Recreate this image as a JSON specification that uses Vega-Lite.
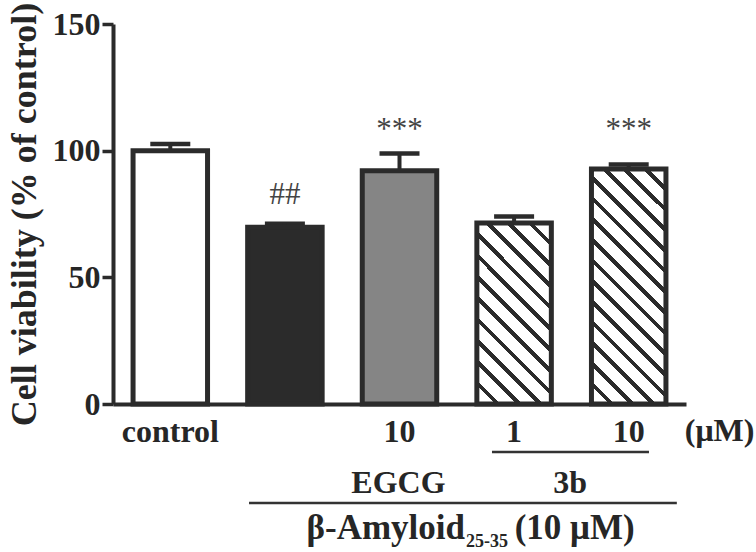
{
  "$schema": "https://vega.github.io/schema/vega-lite/v6.json",
  "width": 573,
  "height": 380,
  "autosize": {"type": "none"},
  "padding": {"left": 113, "top": 24, "right": 70, "bottom": 148},
  "background": "white",
  "config": {
    "view": {"stroke": null},
    "font": "Liberation Serif",
    "axis": {"labelFont": "Liberation Serif", "titleFont": "Liberation Serif"}
  },
  "datasets": {
    "bars": [
      {"group": "control", "mean": 100, "sd": 2.6},
      {"group": "Aβ", "mean": 69.8, "sd": 1.4},
      {"group": "EGCG 10", "mean": 92.1, "sd": 6.8},
      {"group": "3b 1", "mean": 71.4, "sd": 2.6},
      {"group": "3b 10", "mean": 92.8, "sd": 1.7}
    ],
    "sig": [
      {"group": "Aβ", "text": "##", "mean": 79},
      {"group": "EGCG 10", "text": "***", "mean": 104.5},
      {"group": "3b 10", "text": "***", "mean": 104.5}
    ],
    "lines": [
      {"from": 3.307, "to": 4.677, "level": -18.95},
      {"from": 1.187, "to": 4.92, "level": -39.1}
    ],
    "centerLabels": [
      {"label": "(μM)", "pos": 5.293, "level": -14.6},
      {"label": "EGCG", "pos": 2.491, "level": -35.1},
      {"label": "3b", "pos": 3.988, "level": -35.1}
    ],
    "rightLabels": [
      {"label": "β-Amyloid", "pos": 3.072, "level": -53.3}
    ],
    "subLabels": [
      {"label": "25-35", "pos": 3.08, "level": -56.6}
    ],
    "leftLabels": [
      {"label": "(10 μM)", "pos": 3.505, "level": -53.3}
    ]
  },
  "resolve": {"scale": {"x": "independent", "y": "independent"}},
  "layer": [
    {
      "data": {"name": "bars"},
      "encoding": {
        "x": {
          "field": "group",
          "type": "nominal",
          "sort": null,
          "scale": {
            "domain": ["control", "Aβ", "EGCG 10", "3b 1", "3b 10"],
            "paddingInner": 0.35,
            "paddingOuter": 0.175
          },
          "axis": {
            "title": null,
            "ticks": false,
            "domainColor": "#2b2b2b",
            "domainWidth": 4,
            "labelFontSize": 32,
            "labelFontWeight": "bold",
            "labelColor": "#262626",
            "labelBaseline": "alphabetic",
            "labelPadding": 37,
            "labelAngle": 0,
            "labelExpr": "datum.value == 'control' ? 'control' : datum.value == 'EGCG 10' ? '10' : datum.value == '3b 1' ? '1' : datum.value == '3b 10' ? '10' : ''"
          }
        },
        "y": {
          "field": "mean",
          "type": "quantitative",
          "scale": {"domain": [0, 150], "nice": false},
          "axis": {
            "title": "Cell viability (% of control)",
            "values": [0, 50, 100, 150],
            "grid": false,
            "domainColor": "#2b2b2b",
            "domainWidth": 4,
            "tickColor": "#2b2b2b",
            "tickWidth": 3.5,
            "tickSize": 11,
            "labelFontSize": 32,
            "labelFontWeight": "bold",
            "labelColor": "#262626",
            "labelPadding": 2,
            "titleFontSize": 36,
            "titleFontWeight": "bold",
            "titleColor": "#262626",
            "titlePadding": 9
          }
        }
      },
      "layer": [
        {
          "mark": {
            "type": "errorbar",
            "ticks": {"size": 40, "thickness": 4.5, "color": "#2b2b2b", "opacity": 1},
            "rule": {"strokeWidth": 4, "color": "#2b2b2b", "opacity": 1}
          },
          "encoding": {"yError": {"field": "sd"}}
        },
        {
          "transform": [{"filter": {"field": "group", "oneOf": ["control", "Aβ", "EGCG 10"]}}],
          "mark": {"type": "bar", "stroke": "#2b2b2b", "strokeWidth": 5},
          "encoding": {
            "fill": {
              "field": "group",
              "type": "nominal",
              "scale": {"domain": ["control", "Aβ", "EGCG 10"], "range": ["#ffffff", "#2b2b2b", "#858585"]},
              "legend": null
            }
          }
        },
        {
          "transform": [{"filter": {"field": "group", "equal": "3b 1"}}],
          "mark": {
            "type": "bar",
            "stroke": "#2b2b2b",
            "strokeWidth": 5,
            "fill": {
              "gradient": "linear",
              "x1": 0, "y1": 1, "x2": 0.498, "y2": -0.207,
              "stops": [
                {"offset": 0, "color": "#ffffff"},
                {"offset": 0.0721, "color": "#ffffff"}, {"offset": 0.0721, "color": "#2b2b2b"}, {"offset": 0.0945, "color": "#2b2b2b"}, {"offset": 0.0945, "color": "#ffffff"},
                {"offset": 0.1555, "color": "#ffffff"}, {"offset": 0.1555, "color": "#2b2b2b"}, {"offset": 0.1779, "color": "#2b2b2b"}, {"offset": 0.1779, "color": "#ffffff"},
                {"offset": 0.2388, "color": "#ffffff"}, {"offset": 0.2388, "color": "#2b2b2b"}, {"offset": 0.2612, "color": "#2b2b2b"}, {"offset": 0.2612, "color": "#ffffff"},
                {"offset": 0.3221, "color": "#ffffff"}, {"offset": 0.3221, "color": "#2b2b2b"}, {"offset": 0.3445, "color": "#2b2b2b"}, {"offset": 0.3445, "color": "#ffffff"},
                {"offset": 0.4055, "color": "#ffffff"}, {"offset": 0.4055, "color": "#2b2b2b"}, {"offset": 0.4279, "color": "#2b2b2b"}, {"offset": 0.4279, "color": "#ffffff"},
                {"offset": 0.4888, "color": "#ffffff"}, {"offset": 0.4888, "color": "#2b2b2b"}, {"offset": 0.5112, "color": "#2b2b2b"}, {"offset": 0.5112, "color": "#ffffff"},
                {"offset": 0.5721, "color": "#ffffff"}, {"offset": 0.5721, "color": "#2b2b2b"}, {"offset": 0.5945, "color": "#2b2b2b"}, {"offset": 0.5945, "color": "#ffffff"},
                {"offset": 0.6555, "color": "#ffffff"}, {"offset": 0.6555, "color": "#2b2b2b"}, {"offset": 0.6779, "color": "#2b2b2b"}, {"offset": 0.6779, "color": "#ffffff"},
                {"offset": 0.7388, "color": "#ffffff"}, {"offset": 0.7388, "color": "#2b2b2b"}, {"offset": 0.7612, "color": "#2b2b2b"}, {"offset": 0.7612, "color": "#ffffff"},
                {"offset": 0.8221, "color": "#ffffff"}, {"offset": 0.8221, "color": "#2b2b2b"}, {"offset": 0.8445, "color": "#2b2b2b"}, {"offset": 0.8445, "color": "#ffffff"},
                {"offset": 0.9055, "color": "#ffffff"}, {"offset": 0.9055, "color": "#2b2b2b"}, {"offset": 0.9279, "color": "#2b2b2b"}, {"offset": 0.9279, "color": "#ffffff"},
                {"offset": 1, "color": "#ffffff"}
              ]
            }
          }
        },
        {
          "transform": [{"filter": {"field": "group", "equal": "3b 10"}}],
          "mark": {
            "type": "bar",
            "stroke": "#2b2b2b",
            "strokeWidth": 5,
            "fill": {
              "gradient": "linear",
              "x1": 0, "y1": 1, "x2": 0.379, "y2": -0.197,
              "stops": [
                {"offset": 0, "color": "#ffffff"},
                {"offset": 0.0575, "color": "#ffffff"}, {"offset": 0.0575, "color": "#2b2b2b"}, {"offset": 0.0759, "color": "#2b2b2b"}, {"offset": 0.0759, "color": "#ffffff"},
                {"offset": 0.1241, "color": "#ffffff"}, {"offset": 0.1241, "color": "#2b2b2b"}, {"offset": 0.1425, "color": "#2b2b2b"}, {"offset": 0.1425, "color": "#ffffff"},
                {"offset": 0.1908, "color": "#ffffff"}, {"offset": 0.1908, "color": "#2b2b2b"}, {"offset": 0.2092, "color": "#2b2b2b"}, {"offset": 0.2092, "color": "#ffffff"},
                {"offset": 0.2575, "color": "#ffffff"}, {"offset": 0.2575, "color": "#2b2b2b"}, {"offset": 0.2759, "color": "#2b2b2b"}, {"offset": 0.2759, "color": "#ffffff"},
                {"offset": 0.3241, "color": "#ffffff"}, {"offset": 0.3241, "color": "#2b2b2b"}, {"offset": 0.3425, "color": "#2b2b2b"}, {"offset": 0.3425, "color": "#ffffff"},
                {"offset": 0.3908, "color": "#ffffff"}, {"offset": 0.3908, "color": "#2b2b2b"}, {"offset": 0.4092, "color": "#2b2b2b"}, {"offset": 0.4092, "color": "#ffffff"},
                {"offset": 0.4575, "color": "#ffffff"}, {"offset": 0.4575, "color": "#2b2b2b"}, {"offset": 0.4759, "color": "#2b2b2b"}, {"offset": 0.4759, "color": "#ffffff"},
                {"offset": 0.5241, "color": "#ffffff"}, {"offset": 0.5241, "color": "#2b2b2b"}, {"offset": 0.5425, "color": "#2b2b2b"}, {"offset": 0.5425, "color": "#ffffff"},
                {"offset": 0.5908, "color": "#ffffff"}, {"offset": 0.5908, "color": "#2b2b2b"}, {"offset": 0.6092, "color": "#2b2b2b"}, {"offset": 0.6092, "color": "#ffffff"},
                {"offset": 0.6575, "color": "#ffffff"}, {"offset": 0.6575, "color": "#2b2b2b"}, {"offset": 0.6759, "color": "#2b2b2b"}, {"offset": 0.6759, "color": "#ffffff"},
                {"offset": 0.7241, "color": "#ffffff"}, {"offset": 0.7241, "color": "#2b2b2b"}, {"offset": 0.7425, "color": "#2b2b2b"}, {"offset": 0.7425, "color": "#ffffff"},
                {"offset": 0.7908, "color": "#ffffff"}, {"offset": 0.7908, "color": "#2b2b2b"}, {"offset": 0.8092, "color": "#2b2b2b"}, {"offset": 0.8092, "color": "#ffffff"},
                {"offset": 0.8575, "color": "#ffffff"}, {"offset": 0.8575, "color": "#2b2b2b"}, {"offset": 0.8759, "color": "#2b2b2b"}, {"offset": 0.8759, "color": "#ffffff"},
                {"offset": 0.9241, "color": "#ffffff"}, {"offset": 0.9241, "color": "#2b2b2b"}, {"offset": 0.9425, "color": "#2b2b2b"}, {"offset": 0.9425, "color": "#ffffff"},
                {"offset": 1, "color": "#ffffff"}
              ]
            }
          }
        },
        {
          "data": {"name": "sig"},
          "mark": {"type": "text", "font": "Liberation Serif", "fontSize": 31, "color": "#444444", "baseline": "alphabetic", "align": "center"},
          "encoding": {
            "text": {"field": "text"}
          }
        }
      ]
    },
    {
      "layer": [
        {
          "data": {"name": "lines"},
          "mark": {"type": "rule", "stroke": "#333333", "strokeWidth": 2.5},
          "encoding": {
            "x": {"field": "from", "type": "quantitative", "scale": {"domain": [0, 5], "nice": false, "zero": false}, "axis": null},
            "x2": {"field": "to"},
            "y": {"field": "level", "type": "quantitative", "scale": {"domain": [0, 150], "nice": false}, "axis": null}
          }
        },
        {
          "data": {"name": "centerLabels"},
          "mark": {"type": "text", "font": "Liberation Serif", "fontWeight": "bold", "fontSize": 32, "color": "#262626", "align": "center", "baseline": "alphabetic"},
          "encoding": {
            "x": {"field": "pos", "type": "quantitative", "scale": {"domain": [0, 5], "nice": false, "zero": false}, "axis": null},
            "y": {"field": "level", "type": "quantitative", "scale": {"domain": [0, 150], "nice": false}, "axis": null},
            "text": {"field": "label"}
          }
        },
        {
          "data": {"name": "rightLabels"},
          "mark": {"type": "text", "font": "Liberation Serif", "fontWeight": "bold", "fontSize": 35, "color": "#262626", "align": "right", "baseline": "alphabetic"},
          "encoding": {
            "x": {"field": "pos", "type": "quantitative", "scale": {"domain": [0, 5], "nice": false, "zero": false}, "axis": null},
            "y": {"field": "level", "type": "quantitative", "scale": {"domain": [0, 150], "nice": false}, "axis": null},
            "text": {"field": "label"}
          }
        },
        {
          "data": {"name": "subLabels"},
          "mark": {"type": "text", "font": "Liberation Serif", "fontWeight": "bold", "fontSize": 18, "color": "#262626", "align": "left", "baseline": "alphabetic"},
          "encoding": {
            "x": {"field": "pos", "type": "quantitative", "scale": {"domain": [0, 5], "nice": false, "zero": false}, "axis": null},
            "y": {"field": "level", "type": "quantitative", "scale": {"domain": [0, 150], "nice": false}, "axis": null},
            "text": {"field": "label"}
          }
        },
        {
          "data": {"name": "leftLabels"},
          "mark": {"type": "text", "font": "Liberation Serif", "fontWeight": "bold", "fontSize": 35, "color": "#262626", "align": "left", "baseline": "alphabetic"},
          "encoding": {
            "x": {"field": "pos", "type": "quantitative", "scale": {"domain": [0, 5], "nice": false, "zero": false}, "axis": null},
            "y": {"field": "level", "type": "quantitative", "scale": {"domain": [0, 150], "nice": false}, "axis": null},
            "text": {"field": "label"}
          }
        }
      ]
    }
  ]
}
